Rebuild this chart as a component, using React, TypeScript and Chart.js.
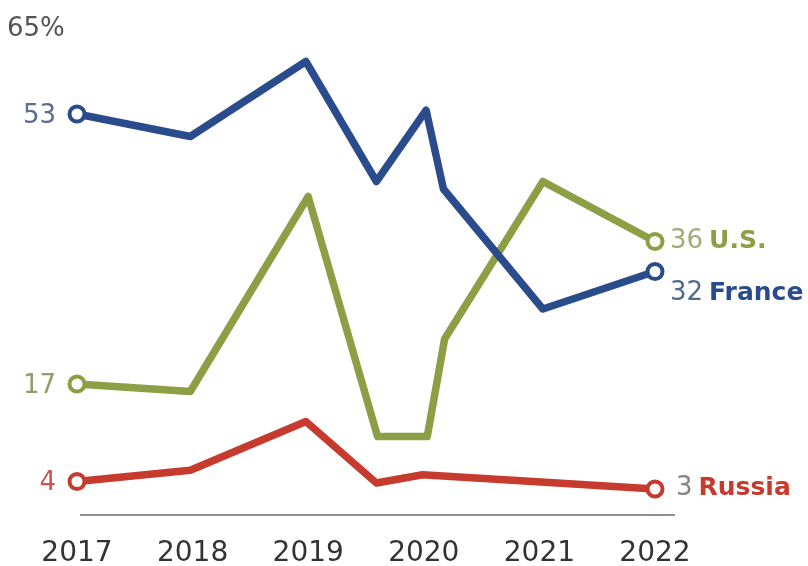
import React, { useEffect, useRef } from "react";
import { Chart, registerables } from "chart.js";

Chart.register(...registerables);

const yearTicks = [2017, 2018, 2019, 2020, 2021, 2022];

const franceX = [2017, 2017.98, 2018.98, 2019.59, 2020.02, 2020.17, 2021.03, 2022];
const franceY = [53, 50, 60, 44, 53.5, 43, 27, 32];

const usX = [2017, 2017.98, 2019.0, 2019.6, 2020.03, 2020.18, 2021.03, 2022];
const usY = [17, 16, 42, 10, 10, 23, 44, 36];

const russiaX = [2017, 2017.98, 2018.98, 2019.59, 2019.99, 2022];
const russiaY = [4, 5.5, 12, 3.8, 4.9, 3];

const seriesNames = ["France", "U.S.", "Russia"];
const firstLabels = ["53", "17", "4"];
const lastLabels = ["32", "36", "3"];

const COLORS = ["#2b4c8c", "#8c9f45", "#c73a2e"];
const NUM_COLORS = ["#5b6d94", "#939d6a", "#c8564c"];
const LAST_NUM_COLORS = ["#55698f", "#a3ac78", "#8a8080"];

const toPts = (xs: number[], ys: number[]) => xs.map((x, i) => ({ x, y: ys[i] }));

const FONT = "'DejaVu Sans', sans-serif";

const labelPlugin = {
  id: "labelPlugin",
  afterDatasetsDraw(chart: any) {
    const { ctx, scales } = chart;
    const xs = scales.x;
    const ys = scales.y;
    ctx.save();
    // baseline
    ctx.strokeStyle = "#6b6b6b";
    ctx.lineWidth = 1.5;
    ctx.beginPath();
    const by = ys.getPixelForValue(0) + 3.5;
    ctx.moveTo(xs.getPixelForValue(2017) + 3, by);
    ctx.lineTo(xs.getPixelForValue(2022) + 20, by);
    ctx.stroke();

    // 65% top label
    ctx.font = `26px ${FONT}`;
    ctx.fillStyle = "#555555";
    ctx.textAlign = "left";
    ctx.textBaseline = "alphabetic";
    ctx.fillText("65%", 7, 36);

    const ds = chart.data.datasets;
    const yOffsets = [22, 0, -1];
    const xOffsets = [0, 0, 6];
    ds.forEach((d: any, i: number) => {
      const first = d.data[0];
      const last = d.data[d.data.length - 1];
      const fx = xs.getPixelForValue(first.x);
      const fy = ys.getPixelForValue(first.y);
      ctx.font = `26px ${FONT}`;
      ctx.textAlign = "right";
      ctx.textBaseline = "middle";
      ctx.fillStyle = NUM_COLORS[i];
      ctx.fillText(firstLabels[i], fx - 21, fy + 2);

      const lx = xs.getPixelForValue(last.x) + 15 + xOffsets[i];
      const ly = ys.getPixelForValue(last.y) + yOffsets[i];
      ctx.textAlign = "left";
      ctx.font = `26px ${FONT}`;
      ctx.fillStyle = LAST_NUM_COLORS[i];
      ctx.fillText(lastLabels[i], lx, ly);
      const w = ctx.measureText(lastLabels[i]).width;
      ctx.font = `bold 25px ${FONT}`;
      ctx.fillStyle = COLORS[i];
      ctx.fillText(seriesNames[i], lx + w + 6, ly);
    });
    ctx.restore();
  },
};

export default function App() {
  const ref = useRef<HTMLCanvasElement | null>(null);
  useEffect(() => {
    if (!ref.current) return;
    const seriesData = [toPts(franceX, franceY), toPts(usX, usY), toPts(russiaX, russiaY)];
    const chart = new Chart(ref.current, {
      type: "line",
      data: {
        datasets: seriesData.map((pts, i) => ({
          label: seriesNames[i],
          data: pts,
          borderColor: COLORS[i],
          backgroundColor: "#ffffff",
          borderWidth: 7.5,
          borderJoinStyle: "round" as const,
          borderCapStyle: "round" as const,
          pointRadius: (c: any) => (c.dataIndex === 0 || c.dataIndex === pts.length - 1 ? 7.5 : 0),
          pointBorderWidth: 4,
          pointBackgroundColor: "#ffffff",
          pointBorderColor: COLORS[i],
          tension: 0,
          clip: false as any,
        })),
      },
      options: {
        animation: false,
        responsive: false,
        maintainAspectRatio: false,
        layout: { padding: { left: 77, right: 153, top: 24, bottom: 0 } },
        plugins: { legend: { display: false }, tooltip: { enabled: false } },
        scales: {
          x: {
            type: "linear",
            min: 2017,
            max: 2022,
            afterFit: (axis: any) => {
              axis.height = 54.5;
            },
            afterBuildTicks: (axis: any) => {
              axis.ticks = yearTicks.map((v) => ({ value: v }));
            },
            grid: { display: false, drawTicks: false },
            border: { display: false },
            ticks: {
              padding: 25,
              color: "#333333",
              font: { family: FONT, size: 28 },
              callback: (v: any) => String(v),
              maxRotation: 0,
              autoSkip: false,
            },
          },
          y: {
            display: false,
            min: 0,
            max: 65,
          },
        },
      },
      plugins: [labelPlugin],
    });
    return () => chart.destroy();
  }, []);
  return (
    <div style={{ position: "fixed", left: 0, top: 0, width: 808, height: 566, background: "#fff" }}>
      <canvas ref={ref} width={808} height={566} style={{ width: 808, height: 566 }} />
    </div>
  );
}
